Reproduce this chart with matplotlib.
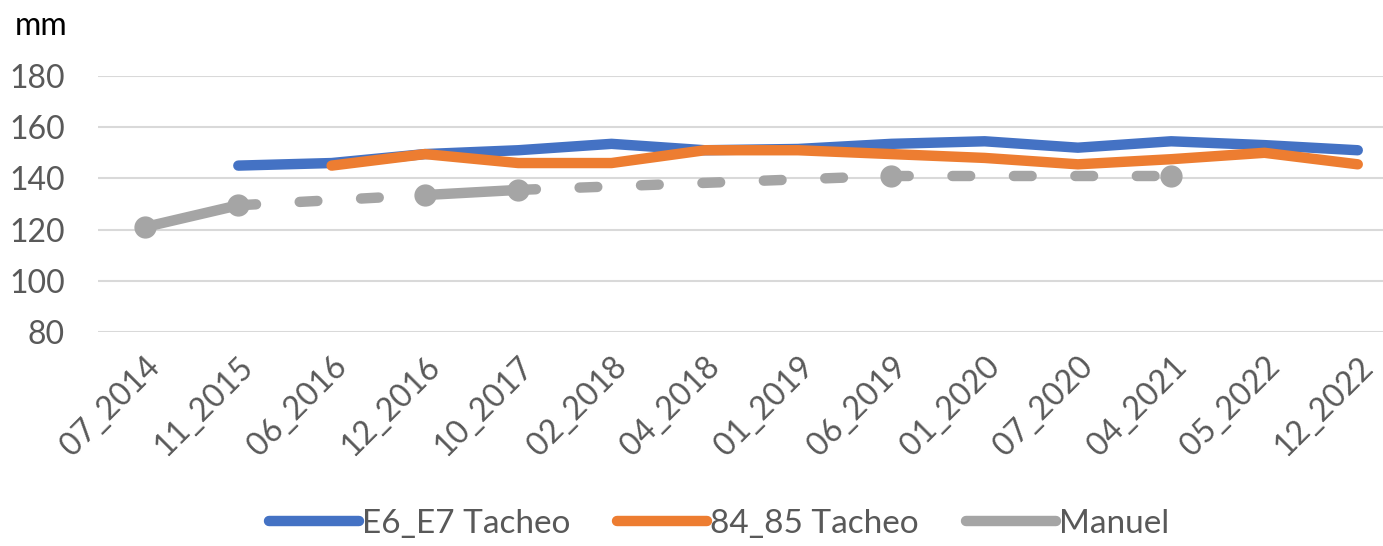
import numpy as np
import matplotlib
matplotlib.use("Agg")
import matplotlib.pyplot as plt

plt.rcParams['font.family'] = ['Lato', 'DejaVu Sans']

dates = ["07_2014", "11_2015", "06_2016", "12_2016", "10_2017", "02_2018", "04_2018",
         "01_2019", "06_2019", "01_2020", "07_2020", "04_2021", "05_2022", "12_2022"]
nan = np.nan
e6_e7 = [nan, 145, 146, 149.5, 151, 153.5, 151, 151.5, 153.5, 154.5, 152, 154.5, 153, 151]
p84_85 = [nan, nan, 145, 149.5, 146, 146, 151, 151, 149.5, 148, 145.5, 147.5, 150, 145.5]
manuel = [121, 129.5, nan, 133.5, 135.5, nan, nan, nan, 141, nan, nan, 141, nan, nan]

blue = "#4472C4"
orange = "#ED7D31"
gray = "#A5A5A5"
lw = 7.5

fig = plt.figure(figsize=(13.83, 5.46), dpi=100)
ax = fig.add_axes([98.4 / 1383, 1 - 332 / 546, 1306 / 1383, 256 / 546])

x = np.arange(len(dates))
ax.plot(x, e6_e7, color=blue, lw=lw, solid_capstyle='round', solid_joinstyle='round',
        label="E6_E7 Tacheo", zorder=3)
ax.plot(x, p84_85, color=orange, lw=lw, solid_capstyle='round', solid_joinstyle='round',
        label="84_85 Tacheo", zorder=4)

# Manuel: solid between neighbouring dates, dashed across missing dates
m = np.array(manuel)
idx = np.where(~np.isnan(m))[0]
for a, b in zip(idx[:-1], idx[1:]):
    if b - a == 1:
        ax.plot([a, b], [m[a], m[b]], color=gray, lw=lw, solid_capstyle='round', zorder=2)
    else:
        ax.plot([a, b], [m[a], m[b]], color=gray, lw=lw, dashes=(1.7, 4.2),
                dash_capstyle='round', zorder=2)
ax.plot(idx, m[idx], 'o', color=gray, ms=15, zorder=2)
ax.plot([], [], color=gray, lw=lw, label="Manuel")

ax.set_xlim(-0.5, len(dates) - 0.5)
ax.set_ylim(80, 180)
ax.set_yticks(range(80, 181, 20))
ax.set_xticks(x)
ax.set_xticklabels(dates, rotation=45, ha='right', rotation_mode='anchor')
ax.tick_params(axis='both', length=0, labelsize=23, labelcolor="#595959")
ax.tick_params(axis='x', pad=14)
ax.tick_params(axis='y', pad=24)
ax.grid(axis='y', color="#D9D9D9", lw=1.5)
ax.set_axisbelow(True)
for s in ax.spines.values():
    s.set_visible(False)

fig.text(15 / 1383, 1 - 26 / 546, "mm", fontsize=23, va='center', ha='left', color="black")

leg = fig.legend(loc='center', bbox_to_anchor=(719 / 1383, 1 - 524 / 546), ncol=3,
                 frameon=False, fontsize=24, handlelength=2.7, handletextpad=0.1,
                 columnspacing=1.4)
for t in leg.get_texts():
    t.set_color("#595959")
for h in leg.get_lines():
    h.set_linewidth(lw)
    h.set_solid_capstyle('round')

fig.savefig("out.png", dpi=100)
